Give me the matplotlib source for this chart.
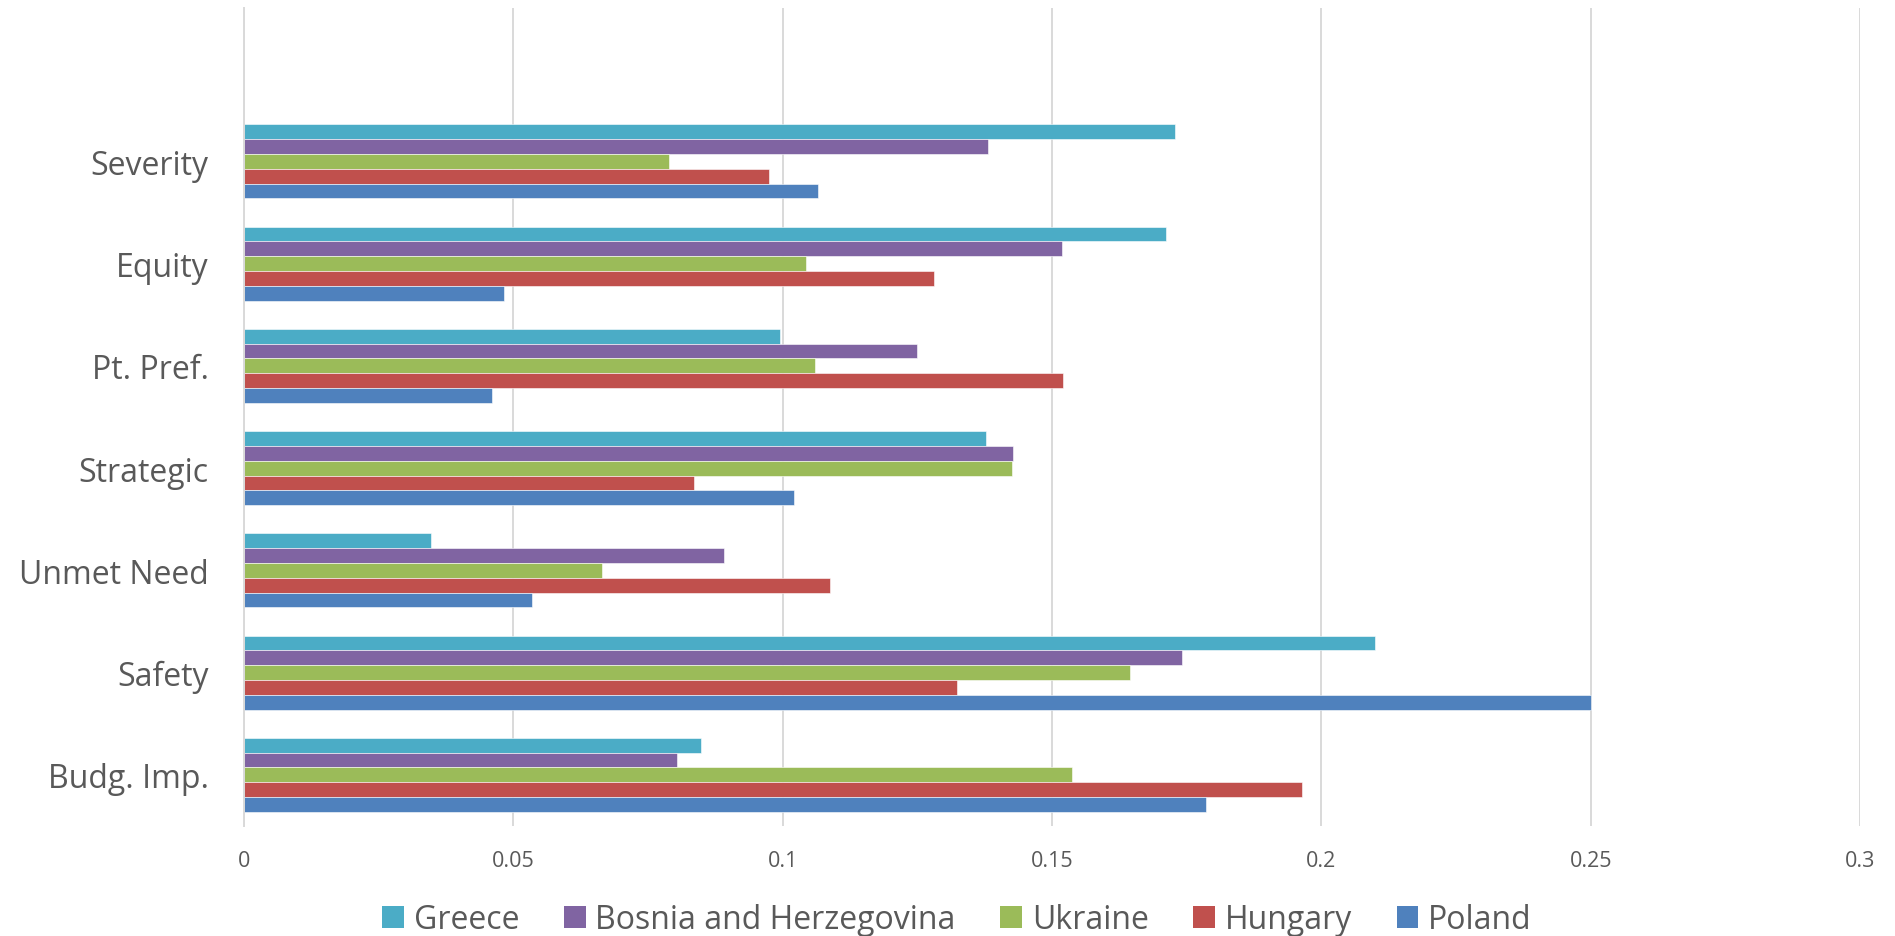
import matplotlib
matplotlib.use('Agg')
import matplotlib.pyplot as plt
import numpy as np
from matplotlib.patches import Patch

# ============================================================
# DATA (bottom to top, as drawn on the y axis)
# ============================================================
kategori = ["Budg. Imp.", "Safety", "Unmet Need", "Strategic",
            "Pt. Pref.", "Equity", "Severity"]

negara = ["Greece", "Bosnia and Herzegovina", "Ukraine", "Hungary", "Poland"]

greece = [0.0849, 0.2099, 0.0348, 0.1377, 0.0995, 0.1712, 0.1729]
bosnia = [0.0803, 0.1741, 0.0891, 0.1428, 0.1250, 0.1518, 0.1382]
ukraine = [0.1538, 0.1644, 0.0665, 0.1426, 0.1060, 0.1043, 0.0789]
hungary = [0.1964, 0.1323, 0.1088, 0.0836, 0.1520, 0.1281, 0.0974]
poland = [0.1786, 0.2500, 0.0535, 0.1021, 0.0461, 0.0482, 0.1065]

x_ticks = [0, 0.05, 0.1, 0.15, 0.2, 0.25, 0.3]
x_tick_labels = ["0", "0.05", "0.1", "0.15", "0.2", "0.25", "0.3"]

# ============================================================
# STYLE
# ============================================================
warna = ["#4BACC6", "#8064A2", "#9BBB59", "#C0504D", "#4F81BD"]
teks = "#595959"
grid_warna = "#D9D9D9"
plt.rcParams['font.family'] = ['Open Sans', 'DejaVu Sans']

fig = plt.figure(figsize=(18.95, 9.37), dpi=100)
ax = fig.add_axes([244 / 1895, 1 - 827 / 937, (1860 - 244) / 1895, (827 - 9) / 937])

y = np.arange(len(kategori))
h = 0.1447
seri = [greece, bosnia, ukraine, hungary, poland]
offset = [2, 1, 0, -1, -2]  # Greece di atas, Poland di bawah

for nilai, off, c in zip(seri, offset, warna):
    ax.barh(y + off * h, nilai, height=h, color=c, edgecolor='white',
            linewidth=0.4, zorder=3)

ax.set_xlim(0, 0.3)
ax.set_ylim(-0.5, 7.5)

ax.set_xticks(x_ticks)
ax.set_xticklabels(x_tick_labels, fontsize=15.5, color=teks)
ax.set_yticks(y)
ax.set_yticklabels(kategori, fontsize=23, color=teks)
ax.tick_params(axis='x', length=0, pad=17)
ax.tick_params(axis='y', length=0, pad=25.5)

ax.grid(axis='x', color=grid_warna, linewidth=1.4, zorder=0)
ax.grid(axis='y', visible=False)
for s in ['top', 'right', 'bottom']:
    ax.spines[s].set_visible(False)
ax.spines['left'].set_color(grid_warna)
ax.spines['left'].set_linewidth(1.4)
ax.spines['left'].set_zorder(4)

handles = [Patch(facecolor=c, edgecolor='none') for c in warna]
fig.legend(handles, negara, loc='center', bbox_to_anchor=(957 / 1895, 1 - 921 / 937),
           ncol=5, frameon=False, fontsize=23, labelcolor=teks,
           handlelength=0.68, handleheight=0.68, handletextpad=0.3,
           columnspacing=1.4)

plt.savefig('out.png', dpi=100)
